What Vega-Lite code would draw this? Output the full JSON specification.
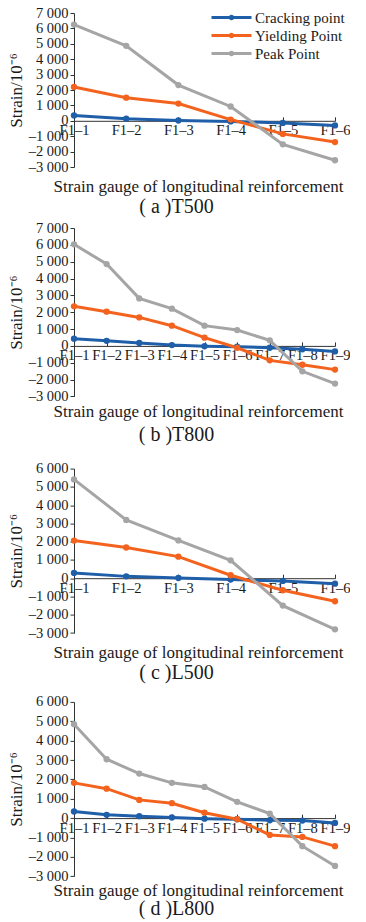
{
  "$schema": "https://vega.github.io/schema/vega-lite/v6.json",
  "background": "white",
  "padding": {"left": 7, "top": 5, "right": 0, "bottom": 0},
  "config": {
    "font": "Liberation Serif",
    "view": {"stroke": null},
    "axis": {"labelFont": "Liberation Serif", "titleFont": "Liberation Serif", "labelColor": "#1a1a1a", "titleColor": "#1a1a1a", "domainColor": "#333333", "tickColor": "#333333", "grid": false, "labelFontSize": 14.5, "titleFontSize": 17, "titleFontWeight": "normal"},
    "axisY": {"tickSize": 4, "labelPadding": 2, "titlePadding": 3, "labelExpr": "replace(replace(format(datum.value, ','), ',', ' '), '−', '–')"},
    "axisX": {"labelAngle": 0, "labelPadding": 7, "tickSize": -4, "labelBaseline": "top", "titleBaseline": "middle", "titleAlign": "center", "titleX": 124},
    "legend": {"orient": "none", "legendX": 165, "padding": 0, "labelFont": "Liberation Serif", "labelFontSize": 15, "labelColor": "#1a1a1a", "symbolType": "M-7,-0.3L1,-0.3L1,0.3L-7,0.3Z M-2.45,0A0.55,0.55 0 1,1 -3.55,0A0.55,0.55 0 1,1 -2.45,0Z", "symbolSize": 100, "symbolStrokeWidth": 0, "rowPadding": 2, "labelOffset": 1},
    "title": {"orient": "bottom", "anchor": "middle", "baseline": "middle", "fontSize": 20, "fontWeight": "normal", "font": "Liberation Serif", "dx": -28, "color": "#1a1a1a"}
  },
  "datasets": {
    "T500": [
      {"gauge": "F1–1", "series": "Cracking point", "strain": 350},
      {"gauge": "F1–2", "series": "Cracking point", "strain": 140},
      {"gauge": "F1–3", "series": "Cracking point", "strain": 20},
      {"gauge": "F1–4", "series": "Cracking point", "strain": -40},
      {"gauge": "F1–5", "series": "Cracking point", "strain": -140},
      {"gauge": "F1–6", "series": "Cracking point", "strain": -300},
      {"gauge": "F1–1", "series": "Yielding Point", "strain": 2200},
      {"gauge": "F1–2", "series": "Yielding Point", "strain": 1500},
      {"gauge": "F1–3", "series": "Yielding Point", "strain": 1120},
      {"gauge": "F1–4", "series": "Yielding Point", "strain": 80},
      {"gauge": "F1–5", "series": "Yielding Point", "strain": -850},
      {"gauge": "F1–6", "series": "Yielding Point", "strain": -1380},
      {"gauge": "F1–1", "series": "Peak Point", "strain": 6250},
      {"gauge": "F1–2", "series": "Peak Point", "strain": 4870},
      {"gauge": "F1–3", "series": "Peak Point", "strain": 2320},
      {"gauge": "F1–4", "series": "Peak Point", "strain": 930},
      {"gauge": "F1–5", "series": "Peak Point", "strain": -1530},
      {"gauge": "F1–6", "series": "Peak Point", "strain": -2560}
    ],
    "T800": [
      {"gauge": "F1–1", "series": "Cracking point", "strain": 430},
      {"gauge": "F1–2", "series": "Cracking point", "strain": 300},
      {"gauge": "F1–3", "series": "Cracking point", "strain": 170},
      {"gauge": "F1–4", "series": "Cracking point", "strain": 50},
      {"gauge": "F1–5", "series": "Cracking point", "strain": -20},
      {"gauge": "F1–6", "series": "Cracking point", "strain": -50},
      {"gauge": "F1–7", "series": "Cracking point", "strain": -110},
      {"gauge": "F1–8", "series": "Cracking point", "strain": -200},
      {"gauge": "F1–9", "series": "Cracking point", "strain": -330},
      {"gauge": "F1–1", "series": "Yielding Point", "strain": 2350},
      {"gauge": "F1–2", "series": "Yielding Point", "strain": 2030},
      {"gauge": "F1–3", "series": "Yielding Point", "strain": 1690},
      {"gauge": "F1–4", "series": "Yielding Point", "strain": 1200},
      {"gauge": "F1–5", "series": "Yielding Point", "strain": 490},
      {"gauge": "F1–6", "series": "Yielding Point", "strain": -110},
      {"gauge": "F1–7", "series": "Yielding Point", "strain": -860},
      {"gauge": "F1–8", "series": "Yielding Point", "strain": -1120},
      {"gauge": "F1–9", "series": "Yielding Point", "strain": -1410},
      {"gauge": "F1–1", "series": "Peak Point", "strain": 6030},
      {"gauge": "F1–2", "series": "Peak Point", "strain": 4860},
      {"gauge": "F1–3", "series": "Peak Point", "strain": 2820},
      {"gauge": "F1–4", "series": "Peak Point", "strain": 2210},
      {"gauge": "F1–5", "series": "Peak Point", "strain": 1200},
      {"gauge": "F1–6", "series": "Peak Point", "strain": 940},
      {"gauge": "F1–7", "series": "Peak Point", "strain": 330},
      {"gauge": "F1–8", "series": "Peak Point", "strain": -1510},
      {"gauge": "F1–9", "series": "Peak Point", "strain": -2240}
    ],
    "L500": [
      {"gauge": "F1–1", "series": "Cracking point", "strain": 290},
      {"gauge": "F1–2", "series": "Cracking point", "strain": 100},
      {"gauge": "F1–3", "series": "Cracking point", "strain": 10},
      {"gauge": "F1–4", "series": "Cracking point", "strain": -70},
      {"gauge": "F1–5", "series": "Cracking point", "strain": -150},
      {"gauge": "F1–6", "series": "Cracking point", "strain": -300},
      {"gauge": "F1–1", "series": "Yielding Point", "strain": 2060},
      {"gauge": "F1–2", "series": "Yielding Point", "strain": 1680},
      {"gauge": "F1–3", "series": "Yielding Point", "strain": 1180},
      {"gauge": "F1–4", "series": "Yielding Point", "strain": 160},
      {"gauge": "F1–5", "series": "Yielding Point", "strain": -660},
      {"gauge": "F1–6", "series": "Yielding Point", "strain": -1260},
      {"gauge": "F1–1", "series": "Peak Point", "strain": 5410},
      {"gauge": "F1–2", "series": "Peak Point", "strain": 3190},
      {"gauge": "F1–3", "series": "Peak Point", "strain": 2070},
      {"gauge": "F1–4", "series": "Peak Point", "strain": 980},
      {"gauge": "F1–5", "series": "Peak Point", "strain": -1500},
      {"gauge": "F1–6", "series": "Peak Point", "strain": -2800}
    ],
    "L800": [
      {"gauge": "F1–1", "series": "Cracking point", "strain": 340},
      {"gauge": "F1–2", "series": "Cracking point", "strain": 170},
      {"gauge": "F1–3", "series": "Cracking point", "strain": 100},
      {"gauge": "F1–4", "series": "Cracking point", "strain": 30},
      {"gauge": "F1–5", "series": "Cracking point", "strain": -30},
      {"gauge": "F1–6", "series": "Cracking point", "strain": -60},
      {"gauge": "F1–7", "series": "Cracking point", "strain": -110},
      {"gauge": "F1–8", "series": "Cracking point", "strain": -130},
      {"gauge": "F1–9", "series": "Cracking point", "strain": -250},
      {"gauge": "F1–1", "series": "Yielding Point", "strain": 1820},
      {"gauge": "F1–2", "series": "Yielding Point", "strain": 1520},
      {"gauge": "F1–3", "series": "Yielding Point", "strain": 940},
      {"gauge": "F1–4", "series": "Yielding Point", "strain": 770},
      {"gauge": "F1–5", "series": "Yielding Point", "strain": 280},
      {"gauge": "F1–6", "series": "Yielding Point", "strain": -60},
      {"gauge": "F1–7", "series": "Yielding Point", "strain": -870},
      {"gauge": "F1–8", "series": "Yielding Point", "strain": -970},
      {"gauge": "F1–9", "series": "Yielding Point", "strain": -1450},
      {"gauge": "F1–1", "series": "Peak Point", "strain": 4850},
      {"gauge": "F1–2", "series": "Peak Point", "strain": 3040},
      {"gauge": "F1–3", "series": "Peak Point", "strain": 2300},
      {"gauge": "F1–4", "series": "Peak Point", "strain": 1820},
      {"gauge": "F1–5", "series": "Peak Point", "strain": 1610},
      {"gauge": "F1–6", "series": "Peak Point", "strain": 840},
      {"gauge": "F1–7", "series": "Peak Point", "strain": 230},
      {"gauge": "F1–8", "series": "Peak Point", "strain": -1450},
      {"gauge": "F1–9", "series": "Peak Point", "strain": -2470}
    ]
  },
  "spacing": 14.6,
  "vconcat": [
    {
      "spacing": 2,
      "vconcat": [
        {
          "data": {"name": "T500"},
          "width": 261, "height": 154,
          "title": {"text": "( a )T500", "offset": 2.9},
          "mark": {"type": "line", "strokeWidth": 3, "point": {"filled": true, "size": 40}},
          "encoding": {
            "x": {"field": "gauge", "type": "nominal", "sort": null, "scale": {"type": "point", "padding": 0}, "axis": {"orient": "bottom", "offset": -46.2, "title": "Strain gauge of longitudinal reinforcement", "titleY": 65.5}},
            "y": {"field": "strain", "type": "quantitative", "scale": {"domain": [-3000, 7000], "nice": false}, "axis": {"values": [-3000, -2000, -1000, 0, 1000, 2000, 3000, 4000, 5000, 6000, 7000], "title": "Strain/10⁻⁶"}},
            "color": {"field": "series", "type": "nominal", "sort": null, "scale": {"domain": ["Cracking point", "Yielding Point", "Peak Point"], "range": ["#1f5ea8", "#f4631e", "#a5a5a5"]}, "legend": {"title": null, "legendY": -2.9, "encode": {"symbols": {"update": {"fill": {"scale": "color", "field": "value"}, "opacity": {"value": 1}}}}}}
          }
        },
        {
          "data": {"name": "T800"},
          "width": 261, "height": 168.4,
          "title": {"text": "( b )T800", "offset": 5.9},
          "mark": {"type": "line", "strokeWidth": 3, "point": {"filled": true, "size": 40}},
          "encoding": {
            "x": {"field": "gauge", "type": "nominal", "sort": null, "scale": {"type": "point", "padding": 0}, "axis": {"orient": "bottom", "offset": -50.5, "title": "Strain gauge of longitudinal reinforcement", "titleY": 65.5}},
            "y": {"field": "strain", "type": "quantitative", "scale": {"domain": [-3000, 7000], "nice": false}, "axis": {"values": [-3000, -2000, -1000, 0, 1000, 2000, 3000, 4000, 5000, 6000, 7000], "title": "Strain/10⁻⁶"}},
            "color": {"field": "series", "type": "nominal", "sort": null, "scale": {"domain": ["Cracking point", "Yielding Point", "Peak Point"], "range": ["#1f5ea8", "#f4631e", "#a5a5a5"]}, "legend": {"title": null, "legendY": 14.2, "encode": {"symbols": {"update": {"fill": {"scale": "color", "field": "value"}, "opacity": {"value": 1}}}}}}
          }
        }
      ]
    },
    {
      "spacing": 11.3,
      "vconcat": [
        {
          "data": {"name": "L500"},
          "width": 261, "height": 164.4,
          "title": {"text": "( c )L500", "offset": 2.6},
          "mark": {"type": "line", "strokeWidth": 3, "point": {"filled": true, "size": 40}},
          "encoding": {
            "x": {"field": "gauge", "type": "nominal", "sort": null, "scale": {"type": "point", "padding": 0}, "axis": {"orient": "bottom", "offset": -54.8, "title": "Strain gauge of longitudinal reinforcement", "titleY": 73.8}},
            "y": {"field": "strain", "type": "quantitative", "scale": {"domain": [-3000, 6000], "nice": false}, "axis": {"values": [-3000, -2000, -1000, 0, 1000, 2000, 3000, 4000, 5000, 6000], "title": "Strain/10⁻⁶"}},
            "color": {"field": "series", "type": "nominal", "sort": null, "scale": {"domain": ["Cracking point", "Yielding Point", "Peak Point"], "range": ["#1f5ea8", "#f4631e", "#a5a5a5"]}, "legend": {"title": null, "legendY": 0.2, "encode": {"symbols": {"update": {"fill": {"scale": "color", "field": "value"}, "opacity": {"value": 1}}}}}}
          }
        },
        {
          "data": {"name": "L800"},
          "width": 261, "height": 174.3,
          "title": {"text": "( d )L800", "offset": -0.4},
          "mark": {"type": "line", "strokeWidth": 3, "point": {"filled": true, "size": 40}},
          "encoding": {
            "x": {"field": "gauge", "type": "nominal", "sort": null, "scale": {"type": "point", "padding": 0}, "axis": {"orient": "bottom", "offset": -58.1, "title": "Strain gauge of longitudinal reinforcement", "titleY": 72.8}},
            "y": {"field": "strain", "type": "quantitative", "scale": {"domain": [-3000, 6000], "nice": false}, "axis": {"values": [-3000, -2000, -1000, 0, 1000, 2000, 3000, 4000, 5000, 6000], "title": "Strain/10⁻⁶"}},
            "color": {"field": "series", "type": "nominal", "sort": null, "scale": {"domain": ["Cracking point", "Yielding Point", "Peak Point"], "range": ["#1f5ea8", "#f4631e", "#a5a5a5"]}, "legend": {"title": null, "legendY": 7.5, "encode": {"symbols": {"update": {"fill": {"scale": "color", "field": "value"}, "opacity": {"value": 1}}}}}}
          }
        }
      ]
    }
  ]
}
